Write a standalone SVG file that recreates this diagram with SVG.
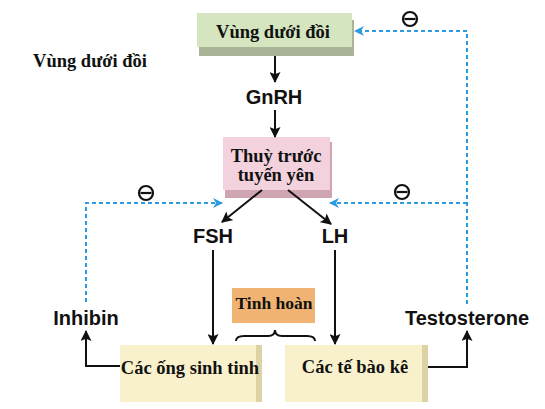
<svg xmlns="http://www.w3.org/2000/svg" width="545" height="409" viewBox="0 0 545 409">
<defs>
<style>
.serif{font-family:"Liberation Serif","Times New Roman",serif;font-weight:bold;fill:#111}
.sans{font-family:"Liberation Sans",Arial,sans-serif;font-weight:bold;fill:#111;font-size:20px}
.blk{stroke:#111;stroke-width:2;fill:none}
.dash{stroke:#2a9be0;stroke-width:2;fill:none;stroke-dasharray:4 3}
.minus{fill:#fff;stroke:#111;stroke-width:2.2}
</style>
<marker id="ah" viewBox="0 0 10 10" refX="9" refY="5" markerWidth="6" markerHeight="5.5" orient="auto" markerUnits="strokeWidth">
<path d="M0,0 L10,5 L0,10 L2,5 Z" fill="#111"/>
</marker>
<marker id="bh" viewBox="0 0 10 10" refX="9" refY="5" markerWidth="8" markerHeight="5" orient="auto" markerUnits="strokeWidth">
<path d="M0,0 L10,5 L0,10 L3,5 Z" fill="#2a9be0"/>
</marker>
</defs>
<rect width="545" height="409" fill="#fff"/>

<g id="hypothalamus">
<rect x="199" y="20" width="155" height="36" fill="#a9b596"/>
<rect x="197" y="13" width="155" height="34" fill="#d4e5bf"/>
<text class="serif" x="273" y="38" font-size="18.5" text-anchor="middle">Vùng dưới đồi</text>
</g>

<g id="label-hypothalamus">
<text class="serif" x="90" y="67" font-size="18.5" text-anchor="middle">Vùng dưới đồi</text>
</g>

<g id="gnrh">
<text class="sans" x="274" y="104" text-anchor="middle">GnRH</text>
</g>

<g id="pituitary">
<rect x="225" y="142" width="107" height="56" fill="#cfa5b1"/>
<rect x="223" y="137" width="107" height="53" fill="#f3d2dd"/>
<text class="serif" x="276" y="162" font-size="18.5" text-anchor="middle">Thuỳ trước</text>
<text class="serif" x="276" y="181" font-size="18.5" text-anchor="middle">tuyến yên</text>
</g>

<g id="fsh"><text class="sans" x="213" y="243" text-anchor="middle">FSH</text></g>
<g id="lh"><text class="sans" x="335" y="243" text-anchor="middle">LH</text></g>
<g id="inhibin"><text class="sans" x="86" y="325" text-anchor="middle">Inhibin</text></g>
<g id="testosterone"><text class="sans" x="467" y="325" text-anchor="middle">Testosterone</text></g>

<g id="testis">
<rect x="232" y="288" width="83" height="35" fill="#f0b373"/>
<text class="serif" x="274" y="309" font-size="17.5" text-anchor="middle">Tinh hoàn</text>
</g>

<g id="seminiferous">
<rect x="120" y="345" width="142" height="57" fill="#f9f1cc"/>
<rect x="256" y="345" width="6" height="57" fill="#ddd2a6"/>
<text class="serif" x="190" y="374" font-size="18.5" text-anchor="middle">Các ống sinh tinh</text>
</g>

<g id="leydig">
<rect x="285" y="345" width="143" height="57" fill="#f9f1cc"/>
<rect x="422" y="345" width="6" height="57" fill="#ddd2a6"/>
<text class="serif" x="355" y="373" font-size="18.5" text-anchor="middle">Các tế bào kê</text>
</g>

<g id="connectors">
<line class="blk" x1="275" y1="56" x2="275" y2="82" marker-end="url(#ah)"/>
<line class="blk" x1="275" y1="110" x2="275" y2="137" marker-end="url(#ah)"/>
<line class="blk" x1="262" y1="190" x2="222" y2="222" marker-end="url(#ah)"/>
<line class="blk" x1="288" y1="190" x2="331" y2="224" marker-end="url(#ah)"/>
<line class="blk" x1="213" y1="250" x2="213" y2="344" marker-end="url(#ah)"/>
<line class="blk" x1="335" y1="250" x2="335" y2="344" marker-end="url(#ah)"/>
<polyline class="blk" points="120,366 86,366 86,331" marker-end="url(#ah)"/>
<polyline class="blk" points="428,367 467,367 467,331" marker-end="url(#ah)"/>
<path d="M236,341 Q236,336 244,336 L268,336 Q275,336 275,330 Q275,336 282,336 L307,336 Q315,336 315,341" fill="none" stroke="#111" stroke-width="2"/>
<polyline class="dash" points="467,304 467,31 355,31" marker-end="url(#bh)"/>
<line class="dash" x1="467" y1="203" x2="330" y2="203" marker-end="url(#bh)"/>
<polyline class="dash" points="86,302 86,203 222,203" marker-end="url(#bh)"/>
<circle class="minus" cx="410" cy="19" r="7"/><line x1="404.5" y1="19" x2="415.5" y2="19" stroke="#111" stroke-width="2.2"/>
<circle class="minus" cx="402" cy="192" r="7"/><line x1="396.5" y1="192" x2="407.5" y2="192" stroke="#111" stroke-width="2.2"/>
<circle class="minus" cx="146" cy="193" r="7"/><line x1="140.5" y1="193" x2="151.5" y2="193" stroke="#111" stroke-width="2.2"/>
</g>
</svg>
